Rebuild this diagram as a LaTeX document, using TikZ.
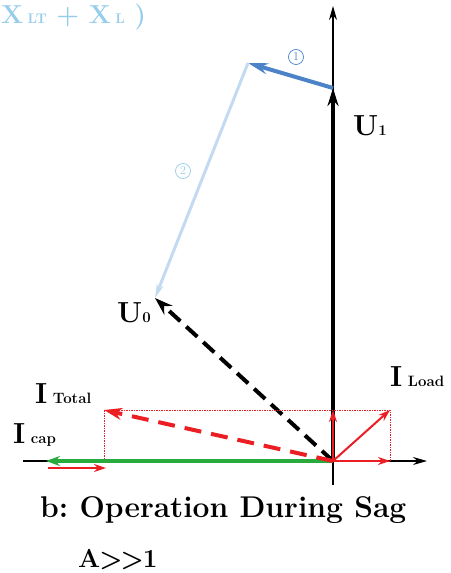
\documentclass[tikz,border=0pt]{standalone}
\usepackage{xcolor}
\usepackage{tikz}
\usetikzlibrary{arrows.meta,positioning,calc}
\definecolor{phasorblue}{RGB}{75,130,200}
\definecolor{lightphasor}{RGB}{195,218,240}
\definecolor{headerblue}{RGB}{150,205,235}
\definecolor{capgreen}{RGB}{40,170,60}
\definecolor{currentred}{RGB}{235,30,35}
\newcommand{\phasorlab}[2]{{\fontsize{29}{30}\selectfont #1}{\fontsize{15}{17}\selectfont #2}}

\begin{document}
\begin{tikzpicture}[x=1pt, y=-1pt, font=\bfseries,
    axis/.style={line width=1.2pt, -{Stealth[length=14pt,width=8pt]}},
    curr/.style={currentred, line width=2pt, -{Stealth[length=12pt,width=8pt]}},
    num/.style={circle, line width=0.7pt, inner sep=0pt, minimum size=15pt, font=\mdseries\fontsize{12}{12}\selectfont}]
\useasboundingbox (0,0) rectangle (450,573);
\clip (0,0) rectangle (450,573);
        % phasor end points
        \coordinate (O) at (333,461);
        \coordinate (u1) at (333,88);
        \coordinate (drop) at (248,63);
        \coordinate (u0) at (155,298);
        \coordinate (itot) at (104,410);
        \coordinate (iload) at (390,410);
        \coordinate (ire) at (390,461);
        \coordinate (iim) at (333,410);
        \coordinate (icap) at (46,461);
        \coordinate (xleft) at (23,461);
        \coordinate (xright) at (427,461);
        \coordinate (ybot) at (333,485);
        \coordinate (ytop) at (333,6);
        \coordinate (capa) at (48,468);
        \coordinate (capb) at (106,468);

        \node[anchor=base west, inner sep=0pt, text=headerblue, font=\bfseries\fontsize{26}{28}\selectfont] (hdr) at (1,23) {X\,{\fontsize{14}{16}\selectfont LT} + X\,{\fontsize{14}{16}\selectfont L} )};

        % axes
        \draw[axis] (xleft) -- (xright);
        \draw[axis] (ybot) -- (ytop);

        % voltages
        \draw[line width=4.5pt, -{Stealth[length=18pt,width=11pt]}] (O) -- (u1);
        \draw[phasorblue, line width=4pt, -{Stealth[length=20pt,width=11pt]}] (u1) -- (drop);
        \draw[lightphasor, line width=3pt, -{Stealth[length=14pt,width=7pt]}] (drop) -- (u0);
        \draw[line width=4pt, dash pattern=on 15pt off 8pt, -{Stealth[length=18pt,width=12pt]}] (O) -- (u0);

        % currents
        \draw[currentred, line width=0.9pt, dash pattern=on 1.5pt off 1pt] (itot) rectangle (ire);
        \draw[capgreen, line width=4.5pt, -{Stealth[length=14pt,width=10pt]}] (O) -- (icap);
        \draw[currentred, line width=4pt, dash pattern=on 17pt off 10pt, -{Stealth[length=18pt,width=12pt]}] (O) -- (itot);
        \draw[curr] (O) -- (iload);
        \draw[curr, line width=1.5pt] (O) -- (ire);
        \draw[curr, line width=1.5pt] (O) -- (iim);
        \draw[curr, line width=1.5pt] (capa) -- (capb);

        % labels
        \node[num, draw=phasorblue, text=phasorblue] (one) at (296,57) {1};
        \node[num, draw=headerblue, text=headerblue] (two) at (183,171) {2};
        \node[anchor=base west, inner sep=0pt] (lu1) at (353,135) {\phasorlab{U}{1}};
        \node[anchor=base west, inner sep=0pt] (lu0) at (117,322) {\phasorlab{U}{0}};
        \node[anchor=base west, inner sep=0pt] (ltot) at (35,403) {\phasorlab{I}{\ Total}};
        \node[anchor=base west, inner sep=0pt] (lload) at (390,386) {\phasorlab{I}{\ Load}};
        \node[anchor=base west, inner sep=0pt] (lcap) at (13,443) {\phasorlab{I}{\ cap}};

        \node[anchor=base west, inner sep=0pt, font=\bfseries\fontsize{30}{32}\selectfont] (title) at (40,517) {b:\ Operation During Sag};
        \node[anchor=base west, inner sep=0pt, font=\bfseries\fontsize{26}{28}\selectfont] (cond) at (78,567) {A{\kern-1pt}>{\kern-2pt}>{\kern-1pt}1};
\end{tikzpicture}
\end{document}
